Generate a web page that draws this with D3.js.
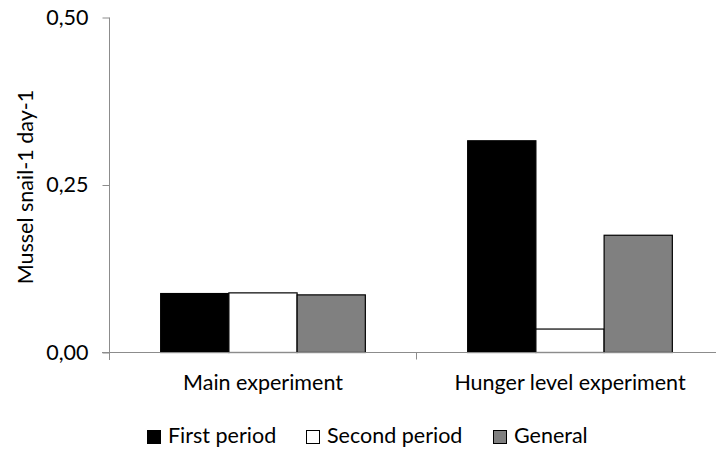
<!DOCTYPE html>
<html><head><meta charset="utf-8">
<script src="https://cdn.jsdelivr.net/npm/d3@7"></script>
<style>body{margin:0;background:#fff}svg{display:block}text{font-family:Lato,"Open Sans",sans-serif;fill:#000}</style>
</head><body><svg id="c" width="716" height="454"></svg>
<script>
const categories = ["Main experiment", "Hunger level experiment"];
const seriesNames = ["First period", "Second period", "General"];
const firstPeriod = [0.088, 0.316];
const secondPeriod = [0.089, 0.035];
const general = [0.086, 0.175];
const yTicks = [0, 0.25, 0.5];
const colors = ["#000000", "#ffffff", "#808080"];

const FS = "21.5px";
const series = [firstPeriod, secondPeriod, general];
const svg = d3.select("#c");
const x0 = d3.scaleBand().domain(categories).range([109.5, 723.5]).paddingInner(0).paddingOuter(0);
const x1 = d3.scaleBand().domain(seriesNames).range([0, x0.bandwidth()]).paddingInner(0).paddingOuter(0.75);
const y = d3.scaleLinear().domain([0, 0.5]).range([352.5, 17.5]);
const fmt = d => d3.format(".2f")(d).replace(".", ",");

// bars
const g = svg.append("g");
categories.forEach((c, ci) => {
  seriesNames.forEach((s, si) => {
    const v = series[si][ci];
    g.append("rect")
      .attr("x", x0(c) + x1(s))
      .attr("y", y(v))
      .attr("width", x1.bandwidth())
      .attr("height", y(0) - y(v))
      .attr("fill", colors[si])
      .attr("stroke", "#000")
      .attr("stroke-width", 1.2);
  });
});

// y axis
const yAxis = d3.axisLeft(y).tickValues(yTicks).tickFormat(fmt).tickSizeInner(7).tickSizeOuter(0).tickPadding(14);
const ya = svg.append("g").attr("transform", "translate(109.5,0)").call(yAxis);
ya.select(".domain").attr("stroke", "#8c8c8c").attr("d", "M0,17.5V360");
ya.selectAll(".tick line").attr("stroke", "#8c8c8c");
ya.selectAll(".tick text").style("font-size", FS).style("font-family", "Lato, sans-serif").attr("fill", "#000");

// x axis
const xAxis = d3.axisBottom(x0).tickSize(0).tickPadding(22);
const xa = svg.append("g").attr("transform", "translate(0,352.5)").call(xAxis);
xa.select(".domain").attr("stroke", "#8c8c8c").attr("d", "M102,0H716");
xa.selectAll(".tick text").style("font-size", FS).style("font-family", "Lato, sans-serif").attr("fill", "#000");
// category separator tick
xa.append("line").attr("x1", x0(categories[1])).attr("x2", x0(categories[1])).attr("y1", 0).attr("y2", 7).attr("stroke", "#8c8c8c");

// y title
svg.append("text").attr("transform", "translate(33,187) rotate(-90)").attr("text-anchor", "middle")
  .style("font-size", FS).text("Mussel snail-1 day-1");

// legend
const legX = [147, 306, 493];
seriesNames.forEach((s, i) => {
  const lg = svg.append("g").attr("transform", `translate(${legX[i]},430)`);
  lg.append("rect").attr("x", 0.5).attr("y", 0.5).attr("width", 13).attr("height", 13)
    .attr("fill", colors[i]).attr("stroke", "#000").attr("stroke-width", 1);
  lg.append("text").attr("x", 21).attr("y", 12.5).style("font-size", FS).text(s);
});
</script></body></html>
